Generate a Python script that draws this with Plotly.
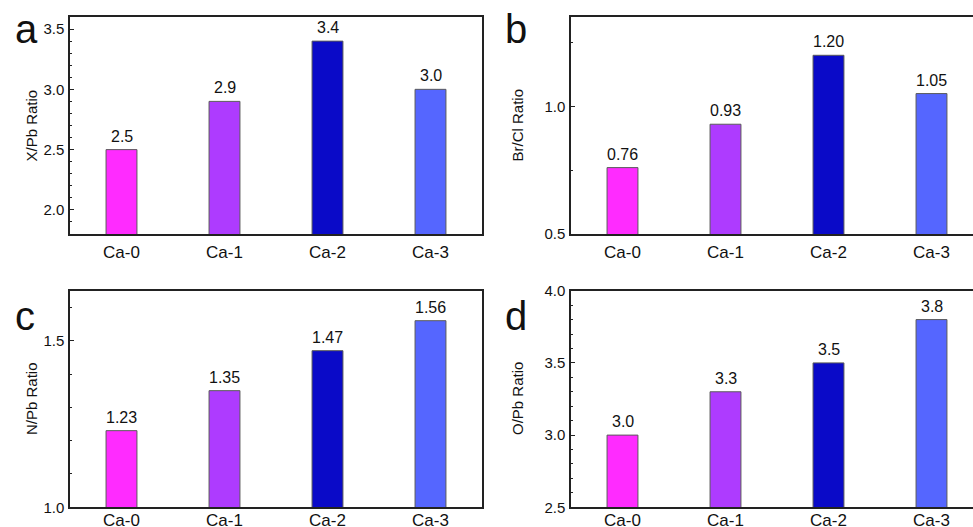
import plotly.graph_objects as go

W, H = 973, 527

categories = ["Ca-0", "Ca-1", "Ca-2", "Ca-3"]
xpb_ratio = [2.5, 2.9, 3.4, 3.0]
xpb_labels = ["2.5", "2.9", "3.4", "3.0"]
brcl_ratio = [0.76, 0.93, 1.20, 1.05]
brcl_labels = ["0.76", "0.93", "1.20", "1.05"]
npb_ratio = [1.23, 1.35, 1.47, 1.56]
npb_labels = ["1.23", "1.35", "1.47", "1.56"]
opb_ratio = [3.0, 3.3, 3.5, 3.8]
opb_labels = ["3.0", "3.3", "3.5", "3.8"]

bar_colors = ["#FF2BFF", "#AE3BFF", "#0A0AC8", "#5566FF"]
FONT = "Liberation Sans, Arial, sans-serif"

panels = [
    # letter, title, values, labels, yrange, major, minor, xdom(px), ydom(px), full box, x label standoff
    ("a", "X/Pb Ratio", xpb_ratio, xpb_labels, [1.8, 3.6], 0.5, 0.1, (70, 482), (17, 234), True, 2),
    ("b", "Br/Cl Ratio", brcl_ratio, brcl_labels, [0.5, 1.35], 0.5, 0.25, (571, 983), (17, 234), False, 2),
    ("c", "N/Pb Ratio", npb_ratio, npb_labels, [1.0, 1.65], 0.5, 0.1, (70, 482), (290.7, 507.3), True, -3),
    ("d", "O/Pb Ratio", opb_ratio, opb_labels, [2.5, 4.0], 0.5, 0.1, (571, 983), (290.7, 507.3), False, -3),
]

fig = go.Figure()
annotations = []
layout = {}
for i, (letter, title, vals, labs, yr, major, minor, xd, yd, full, xso) in enumerate(panels):
    n = "" if i == 0 else str(i + 1)
    xa, ya = "x" + n, "y" + n
    x0, x1 = xd
    unit = (x1 - x0) / 4.0
    xr = [-0.5, 3.5]
    if x1 > W:
        xr = [-0.5, 3.5 - (x1 - W) / unit]
        x1 = W
    fig.add_trace(go.Bar(
        x=categories, y=vals, xaxis=xa, yaxis=ya, width=0.3,
        marker=dict(color=bar_colors, line=dict(color="#5a5a5a", width=1)),
        showlegend=False, hoverinfo="x+y",
    ))
    layout["xaxis" + n] = dict(
        domain=[x0 / W, x1 / W], range=xr, anchor=ya, type="category",
        showline=True, linecolor="#222", linewidth=1.5, mirror=True,
        ticks="", showgrid=False, zeroline=False, automargin=False,
        tickfont=dict(family=FONT, size=17, color="#111"),
        ticklabelstandoff=xso,
    )
    layout["yaxis" + n] = dict(
        domain=[1 - yd[1] / H, 1 - yd[0] / H], range=yr, anchor=xa,
        showline=True, linecolor="#222", linewidth=1.5, mirror=full,
        ticks="inside", ticklen=4, tickwidth=1, tickcolor="#222",
        dtick=major, tick0=0, tickformat=".1f", automargin=False,
        minor=dict(dtick=minor, tick0=0, ticks="inside", ticklen=2.5, tickwidth=1, tickcolor="#222"),
        showgrid=False, zeroline=False,
        tickfont=dict(family=FONT, size=15, color="#111"),
        ticklabelstandoff=1,
    )
    for c, v, t in zip(categories, vals, labs):
        annotations.append(dict(
            x=c, y=v, xref=xa, yref=ya, text=t, showarrow=False,
            yanchor="bottom", yshift=3,
            font=dict(family=FONT, size=16, color="#111"),
        ))
    # panel letter
    lx = 13 if i % 2 == 0 else 503
    ly = 29 if i < 2 else 316
    annotations.append(dict(
        x=lx / W, y=1 - ly / H, xref="paper", yref="paper", text=letter,
        showarrow=False, xanchor="left", yanchor="middle",
        font=dict(family=FONT, size=40, color="#111"),
    ))
    # axis title
    tx = 31 if i % 2 == 0 else 517
    ty = (yd[0] + yd[1]) / 2
    annotations.append(dict(
        x=tx / W, y=1 - ty / H, xref="paper", yref="paper", text=title,
        showarrow=False, textangle=-90, xanchor="center", yanchor="middle",
        font=dict(family=FONT, size=15, color="#111"),
    ))

fig.update_layout(
    width=W, height=H, margin=dict(l=0, r=0, t=0, b=0, autoexpand=False),
    paper_bgcolor="white", plot_bgcolor="white",
    annotations=annotations, **layout,
)
fig.write_html(
    "out.html",
    config={"displayModeBar": False},
    post_script="document.body.style.margin='0';document.body.style.overflow='hidden';",
)
